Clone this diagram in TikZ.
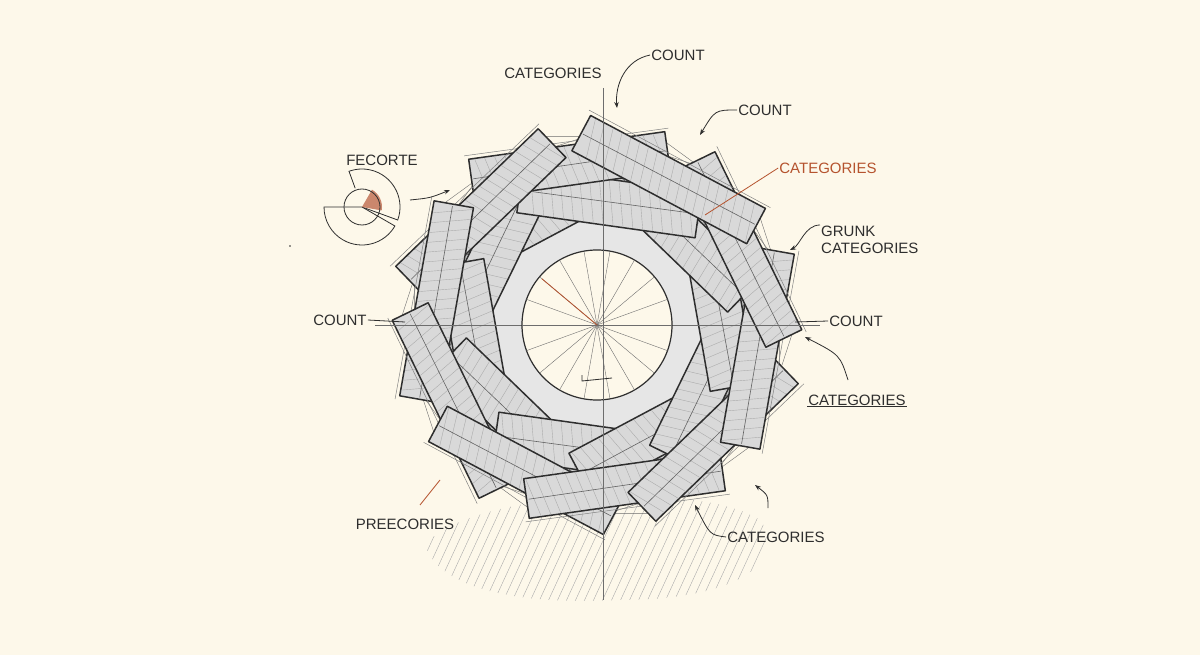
\documentclass[tikz,border=0pt]{standalone}
\usepackage{fontspec}
\setmainfont{Liberation Sans}
\usetikzlibrary{arrows.meta}
\definecolor{paper}{HTML}{FDF8EA}
\definecolor{ink}{HTML}{2E2E2E}
\definecolor{rust}{HTML}{B5532E}
\tikzset{
  lbl/.style={font=\fontsize{15}{17}\selectfont, text=ink, inner sep=1pt},
  thin/.style={draw=ink!70, line width=0.4pt},
  plank/.style={draw=ink, line width=1.5pt, fill=ink!18, line join=round},
  arr/.style={draw=ink, line width=0.8pt, -{Stealth[length=6pt]}}
}
\begin{document}
\begin{tikzpicture}[x=1pt,y=-1pt]
\fill[paper] (0,0) rectangle (1200,655);
\useasboundingbox (0,0) rectangle (1200,655);
% ground hatch
\begin{scope}
\clip (425,545) .. controls (470,490) and (700,480) .. (760,520) .. controls (790,560) and (740,600) .. (620,600) .. controls (520,605) and (440,590) .. (425,545);
\foreach \k in {0,...,40} \draw[ink!40, line width=0.4pt] (400+\k*9,610) -- (460+\k*9,480);
\end{scope}
\coordinate (C) at (597,325);
\begin{scope}[shift={(597,325)}]
\draw[thin] (0:198) \foreach \a in {36,72,...,324} { -- (\a:198) } -- cycle;
\draw[thin] (18:192) \foreach \a in {54,90,...,342} { -- (\a:192) } -- cycle;
\fill[ink!12] (0,0) circle (180);
% inner planks
\foreach \i in {0,...,9}{
\begin{scope}[rotate=\i*36+28]
\draw[plank] (-95,-146) rectangle (85,-100);
\foreach \t in {-88,-78,...,75} \draw[ink!40, line width=0.4pt] (\t,-145) -- (\t+10,-101);
\draw[ink!75, line width=0.6pt] (-93,-123) -- (83,-124);
\end{scope}}
% outer planks
\foreach \i in {0,...,9}{
\begin{scope}[rotate=\i*36+8]
\draw[plank] (-104,-182) rectangle (94,-142);
\foreach \t in {-98,-88,...,84} \draw[ink!40, line width=0.4pt] (\t,-181) -- (\t+10,-143);
\draw[ink!75, line width=0.6pt] (-102,-162) -- (92,-163);
\draw[ink!60, line width=0.5pt] (-108,-186) -- (98,-185);
\end{scope}}
\end{scope}
% crosshair
\draw[thin] (603,88) -- (603,600);
\draw[thin] (375,325) -- (820,325);
% inner circle
\draw[ink, line width=1.2pt, fill=paper] (C) circle (75);
\foreach \a in {0,20,...,340} \draw[thin] (C) -- ++(\a:75);
\draw[thin] (603,250) -- (603,400);
\draw[rust, line width=0.8pt] (C) -- ++(-140:72);
\draw[ink, line width=0.8pt] (582,375) -- (582,381) -- (612,378);
% labels
\node[lbl] (cat1) at (553,73) {CATEGORIES};
\node[lbl] (cnt1) at (678,55) {COUNT};
\coordinate (t1) at (617,108);
\draw[arr] (cnt1.west) .. controls (625,60) and (615,85) .. (t1);
\node[lbl] (cnt2) at (765,110) {COUNT};
\coordinate (t2) at (700,135);
\draw[arr] (cnt2.west) .. controls (715,110) .. (t2);
\node[lbl, text=rust] (cat2) at (828,168) {CATEGORIES};
\coordinate (t3) at (705,215);
\draw[rust, line width=0.8pt] (cat2.west) -- (t3);
\node[lbl, align=left, anchor=west] (grunk) at (820,240) {GRUNK\\CATEGORIES};
\coordinate (t4) at (790,250);
\draw[arr] (grunk.north west) .. controls (805,225) and (800,245) .. (t4);
\node[lbl] (cnt3) at (340,320) {COUNT};
\coordinate (t5) at (405,322);
\draw[ink, line width=0.8pt] (cnt3.east) -- (t5);
\node[lbl] (cnt4) at (856,321) {COUNT};
\coordinate (t6) at (795,322);
\draw[ink, line width=0.8pt] (cnt4.west) -- (t6);
\node[lbl] (cat3) at (857,400) {CATEGORIES};
\draw[ink, line width=0.8pt] (cat3.south west) -- (cat3.south east);
\coordinate (t7) at (805,337);
\coordinate (s7) at (848,380);
\draw[arr] (s7) .. controls (840,355) .. (t7);
\node[lbl] (fec) at (382,160) {FECORTE};
\coordinate (t8) at (450,190);
\coordinate (s8) at (410,200);
\draw[arr] (s8) .. controls (430,198) .. (t8);
% icon
\draw[ink, line width=0.8pt] (362,207) -- ++(30:38) arc (30:180:38) -- cycle;
\draw[ink, line width=0.8pt] (362,207) -- ++(20:38) arc (20:-110:38) -- ++(-110:-18);
\fill[rust!70] (362,207) -- ++(-60:20) arc (-60:10:20) -- cycle;
\draw[ink, line width=0.8pt] (362,207) circle (18);
\node[lbl] (pre) at (405,524) {PREECORIES};
\coordinate (t9) at (440,480);
\coordinate (s9) at (420,505);
\draw[rust, line width=0.8pt] (s9) -- (t9);
\node[lbl] (cat4) at (776,537) {CATEGORIES};
\coordinate (t10) at (695,505);
\draw[arr] (cat4.west) .. controls (710,535) .. (t10);
\coordinate (t11) at (755,485);
\coordinate (s11) at (768,508);
\draw[arr] (s11) .. controls (768,495) .. (t11);
\fill[ink] (290,246) circle (0.8);
\end{tikzpicture}
\end{document}
